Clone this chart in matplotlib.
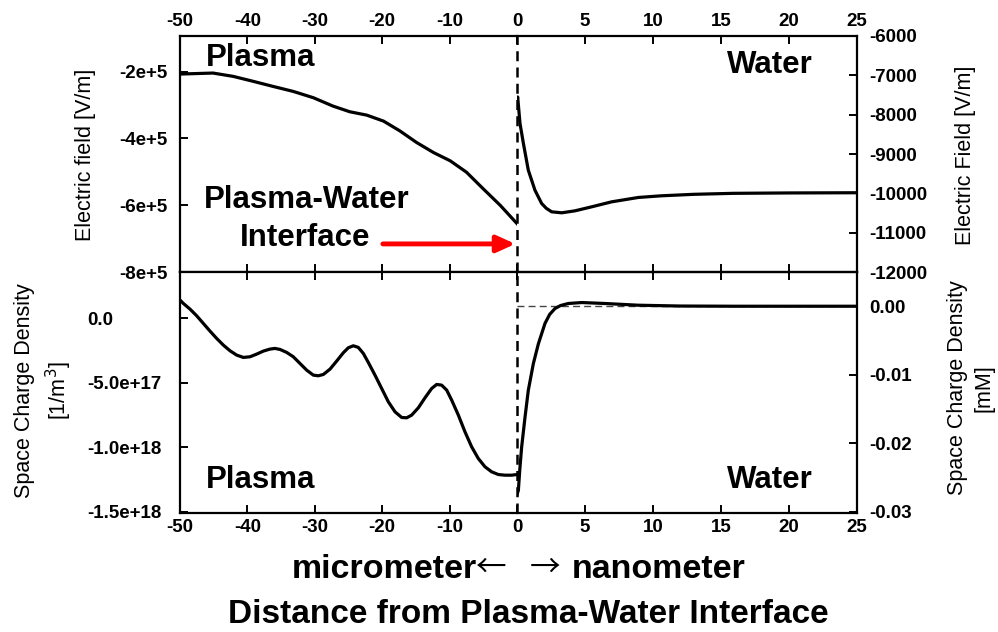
import matplotlib
matplotlib.use("Agg")
import numpy as np
from matplotlib import pyplot as plt

plt.rcParams['font.family'] = ['Liberation Sans', 'DejaVu Sans']

# plasma side (micrometer), electric field [V/m]
x_pl_e = [-50, -45.1, -42.1, -39.1, -36.2, -33.2, -30.2, -27.3, -24.8, -22.3,
          -19.8, -17.4, -14.9, -12.4, -9.9, -7.5, -5.0, -2.5, 0]
e_pl = [-2.07e5, -2.04e5, -2.14e5, -2.29e5, -2.44e5, -2.59e5, -2.78e5, -3.03e5,
        -3.20e5, -3.30e5, -3.48e5, -3.77e5, -4.12e5, -4.42e5, -4.67e5, -5.01e5,
        -5.51e5, -6.0e5, -6.55e5]

# water side (nanometer), electric field [V/m]
x_wa_e = [0, 0.05, 0.22, 0.47, 0.83, 1.32, 1.81, 2.15, 2.55, 3.29, 4.26, 5.49,
          6.96, 8.92, 10.6, 13, 15.9, 20, 25]
e_wa = [-7650, -7550, -8222, -8730, -9410, -9920, -10257, -10380, -10470, -10495,
        -10445, -10343, -10216, -10105, -10063, -10025, -10000, -9990, -9985]

# plasma side space charge density [1/m^3]
x_pl_r = [-50, -49.51, -48.52, -47.53, -46.54, -45.55, -44.56, -43.57, -42.58,
          -41.59, -40.60, -39.61, -38.62, -37.64, -36.65, -35.91, -35.16, -34.17,
          -33.19, -32.20, -31.21, -30.22, -29.48, -28.73, -27.74, -26.76, -25.77,
          -25.03, -24.28, -23.54, -22.80, -22.06, -21.07, -20.08, -19.09, -18.10,
          -17.11, -16.37, -15.63, -14.64, -13.65, -12.66, -11.92, -11.18, -10.43,
          -9.69, -8.70, -7.72, -6.73, -5.74, -4.75, -3.76, -2.77, -1.78, -0.79, 0]
r_pl = [1.395e17, 1.137e17, 0.698e17, 0.181e17, -0.413e17, -1.008e17, -1.576e17,
        -2.093e17, -2.532e17, -2.868e17, -3.049e17, -2.997e17, -2.791e17,
        -2.558e17, -2.403e17, -2.351e17, -2.429e17, -2.661e17, -2.997e17,
        -3.514e17, -4.031e17, -4.419e17, -4.470e17, -4.367e17, -3.953e17,
        -3.333e17, -2.687e17, -2.300e17, -2.145e17, -2.274e17, -2.739e17,
        -3.437e17, -4.419e17, -5.452e17, -6.486e17, -7.261e17, -7.700e17,
        -7.726e17, -7.519e17, -6.951e17, -6.176e17, -5.452e17, -5.142e17,
        -5.194e17, -5.581e17, -6.357e17, -7.519e17, -8.811e17, -9.974e17,
        -1.088e18, -1.152e18, -1.191e18, -1.212e18, -1.217e18, -1.217e18, -1.212e18]

# water side space charge density [mM]
x_wa_r = [0, 0.1, 0.2, 0.34, 0.59, 0.83, 1.2, 1.57, 2.06, 2.4, 2.79, 3.2, 3.77,
          4.76, 6.47, 8.9, 12, 16, 20, 25]
r_wa = [-0.0275, -0.0269, -0.024, -0.0206, -0.0162, -0.0123, -0.0084, -0.0055,
        -0.0025, -0.0012, -0.00034, 0.0001, 0.0004, 0.00054, 0.0004, 0.00015,
        0.00003, 0.0, 0.0, 0.0]

pl_ticks = [-50, -40, -30, -20, -10, 0]
wa_ticks = [0, 5, 10, 15, 20, 25]

W, H = 998, 632
fig = plt.figure(figsize=(W / 100, H / 100), dpi=100)
L, M, R = 180 / W, 517 / W, 857 / W
yb, ym, yt = 1 - 513 / H, 1 - 272 / H, 1 - 36 / H

axTL = fig.add_axes([L, ym, M - L, yt - ym])
axTR = fig.add_axes([M, ym, R - M, yt - ym])
axBL = fig.add_axes([L, yb, M - L, ym - yb])
axBR = fig.add_axes([M, yb, R - M, ym - yb])
for ax in (axTR, axBR):
    ax.patch.set_visible(False)

tick_kw = dict(fontsize=13.5, fontweight='bold')
lw = 2.3

axTL.plot(x_pl_e, e_pl, color='black', lw=lw, solid_joinstyle='round')
axTR.plot(x_wa_e, e_wa, color='black', lw=lw, solid_joinstyle='round')
axBL.plot(x_pl_r, r_pl, color='black', lw=lw, solid_joinstyle='round')
axBR.plot(x_wa_r, r_wa, color='black', lw=lw, solid_joinstyle='round')
axBR.plot([0, 25], [0, 0], color='#444444', lw=1.0, ls=(0, (5, 3)), zorder=1)

axTL.set_ylim(-8e5, -0.93e5)
axTR.set_ylim(-12000, -6000)
axBL.set_ylim(-1.51e18, 3.57e17)
axBR.set_ylim(-0.0302, 0.005)
for ax in (axTL, axBL):
    ax.set_xlim(-50, 0)
    ax.set_xticks(pl_ticks)
    ax.spines['right'].set_visible(False)
for ax in (axTR, axBR):
    ax.set_xlim(0, 25)
    ax.set_xticks(wa_ticks)
    ax.spines['left'].set_visible(False)

axTL.set_yticks([-2e5, -4e5, -6e5, -8e5])
axTL.set_yticklabels(['-2e+5', '-4e+5', '-6e+5', '-8e+5'], **tick_kw)
axTR.set_yticks([-6000, -7000, -8000, -9000, -10000, -11000, -12000])
axTR.set_yticklabels(['-6000', '-7000', '-8000', '-9000', '-10000', '-11000', '-12000'], **tick_kw)
axBL.set_yticks([0, -5e17, -1e18, -1.5e18])
axBL.set_yticklabels(['0.0', '-5.0e+17', '-1.0e+18', '-1.5e+18'], ha='left', **tick_kw)
axBR.set_yticks([0, -0.01, -0.02, -0.03])
axBR.set_yticklabels(['0.00', '-0.01', '-0.02', '-0.03'], **tick_kw)

for ax in (axTL, axTR, axBL, axBR):
    for s in ax.spines.values():
        s.set_linewidth(1.6)
    ax.tick_params(direction='in', length=6, width=1.4, top=True, bottom=True, pad=4)

for ax in (axTL, axBL):
    ax.tick_params(axis='y', left=True, right=False, labelleft=True, labelright=False, pad=9)
axBL.tick_params(axis='y', pad=67)
for ax in (axTR, axBR):
    ax.tick_params(axis='y', left=False, right=True, labelleft=False, labelright=True, pad=9)

# x tick labels: top panel on top, bottom panel at bottom
axTL.tick_params(axis='x', labeltop=True, labelbottom=False)
axTR.tick_params(axis='x', labeltop=True, labelbottom=False)
axBL.tick_params(axis='x', labeltop=False, labelbottom=True)
axBR.tick_params(axis='x', labeltop=False, labelbottom=True)
axTL.set_xticklabels([str(t) for t in pl_ticks], **tick_kw)
axBL.set_xticklabels([str(t) for t in pl_ticks], **tick_kw)
axTR.set_xticklabels([''] + [str(t) for t in wa_ticks[1:]], **tick_kw)
axBR.set_xticklabels([''] + [str(t) for t in wa_ticks[1:]], **tick_kw)

# interface dashed line
for ax in (axTL, axBL):
    ax.axvline(0, color='black', lw=1.8, ls=(0, (4, 2.5)), clip_on=False, zorder=5)

lab = dict(fontsize=15.5, rotation=90, ha='center', va='center', linespacing=1.35)
fig.text(85 / W, 1 - 155 / H, 'Electric field [V/m]', **lab)
fig.text(965 / W, 1 - 155 / H, 'Electric Field [V/m]', **lab)
fig.text(44 / W, 1 - 391 / H, 'Space Charge Density\n[1/m$^3$]', **lab)
fig.text(971 / W, 1 - 388 / H, 'Space Charge Density\n[mM]', **lab)

big = dict(fontsize=22.5, fontweight='bold', va='center', ha='center')
axTL.text(0.238, 0.905, 'Plasma', transform=axTL.transAxes, **big)
axTR.text(0.744, 0.877, 'Water', transform=axTR.transAxes, **big)
axBL.text(0.238, 0.137, 'Plasma', transform=axBL.transAxes, **big)
axBR.text(0.744, 0.137, 'Water', transform=axBR.transAxes, **big)
axTL.text(0.375, 0.305, 'Plasma-Water', transform=axTL.transAxes, **big)
axTL.text(0.372, 0.144, 'Interface', transform=axTL.transAxes, **big)
axTL.annotate('', xy=(0.995, 0.119), xytext=(0.602, 0.119), xycoords='axes fraction',
              arrowprops=dict(arrowstyle='-|>,head_length=1.1,head_width=0.5',
                              color='#ff0000', lw=3.5, shrinkA=0, shrinkB=0))

# x axis caption, arrows from a CJK font to get the open chevron shape
base1 = 1 - 578 / H
xl = dict(fontsize=24.5, fontweight='bold', va='baseline')
fig.text(477 / W, base1, 'micrometer', ha='right', **xl)
arr = dict(fontsize=22, fontweight='medium', va='center', ha='center',
           family=['Noto Sans CJK KR'])
fig.text(491 / W, 1 - 568 / H, '\u2190', **arr)
fig.text(545 / W, 1 - 568 / H, '\u2192', **arr)
fig.text(572 / W, base1, 'nanometer', ha='left', **xl)
fig.text(M + 11 / W, 1 - 623 / H, 'Distance from Plasma-Water Interface', ha='center',
         fontsize=24, fontweight='bold', va='baseline')

fig.savefig('out.png', dpi=100)
